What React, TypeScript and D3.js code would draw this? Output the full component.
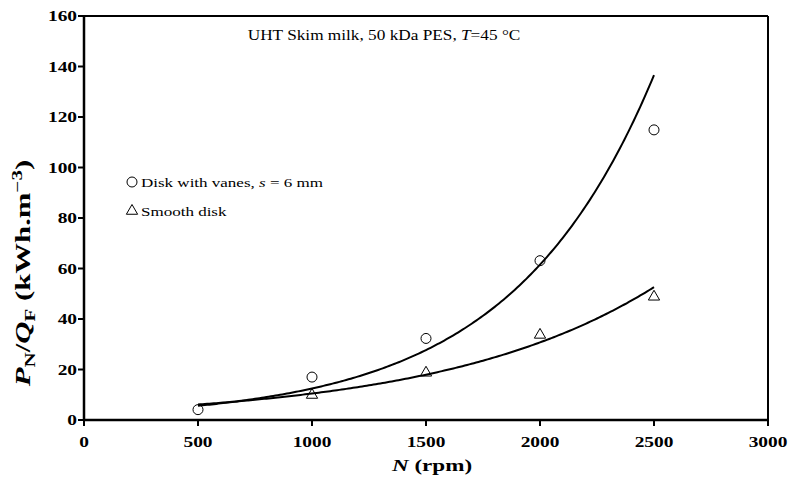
import React from "react";
import * as d3 from "d3";

const speeds = [500, 1000, 1500, 2000, 2500];
const vanesValues = [4.1, 17, 32.3, 63.1, 114.9];
const smoothSpeeds = [1000, 1500, 2000, 2500];
const smoothValues = [9.9, 18.7, 33.7, 48.8];
const xTicks = [0, 500, 1000, 1500, 2000, 2500, 3000];
const yTicks = [0, 20, 40, 60, 80, 100, 120, 140, 160];
const trendDomain = [500, 2500];

const W = 789;
const H = 485;
const FONT = "'Liberation Serif', 'Times New Roman', serif";
const TICK_FS = 15.5;
const TICK_SX = 1.25;

// Exponential trendline (least squares on ln y), like a spreadsheet trendline
function expFit(xs: number[], ys: number[]) {
  const ly = ys.map(Math.log);
  const mx = d3.mean(xs) as number;
  const my = d3.mean(ly) as number;
  let sxy = 0, sxx = 0;
  xs.forEach((x, i) => {
    sxy += (x - mx) * (ly[i] - my);
    sxx += (x - mx) * (x - mx);
  });
  const b = sxy / sxx;
  const a = Math.exp(my - b * mx);
  return (x: number) => a * Math.exp(b * x);
}

export default function App() {
  const x = d3.scaleLinear().domain([0, 3000]).range([84, 768]);
  const y = d3.scaleLinear().domain([0, 160]).range([420, 16]);

  const fVanes = expFit(speeds, vanesValues);
  const fSmooth = expFit(smoothSpeeds, smoothValues);
  const samples = d3.range(trendDomain[0], trendDomain[1] + 1, 10);
  const pathV = d3
    .line<number>()
    .x((d) => x(d))
    .y((d) => y(fVanes(d)))(samples) as string;
  const pathS = d3
    .line<number>()
    .x((d) => x(d))
    .y((d) => y(fSmooth(d)))(samples) as string;

  const tri = d3.symbol().type(d3.symbolTriangle).size(55)() as string;

  return (
    <svg
      width={W}
      height={H}
      style={{ position: "absolute", left: 0, top: 0, background: "#fff" }}
      fontFamily={FONT}
    >
      <rect x={0} y={0} width={W} height={H} fill="#fff" />
      {/* frame */}
      <line x1={x(0)} x2={x(3000)} y1={y(160)} y2={y(160)} stroke="#000" strokeWidth={2} />
      <line x1={x(3000)} x2={x(3000)} y1={y(160)} y2={y(0)} stroke="#000" strokeWidth={2} />
      <line x1={x(0)} x2={x(3000)} y1={y(0)} y2={y(0)} stroke="#000" strokeWidth={2.5} />
      <line x1={x(0)} x2={x(0)} y1={y(160)} y2={y(0)} stroke="#000" strokeWidth={2.5} />

      {/* y ticks */}
      {yTicks.map((t) => (
        <g key={"y" + t}>
          <line x1={x(0) - 6} x2={x(0)} y1={y(t)} y2={y(t)} stroke="#000" strokeWidth={2} />
          <text
            transform={`translate(${x(0) - 7},${y(t)}) scale(${TICK_SX},1)`}
            dy="0.35em"
            textAnchor="end"
            fontWeight="bold"
            fontSize={TICK_FS}
          >
            {t}
          </text>
        </g>
      ))}
      {/* x ticks */}
      {xTicks.map((t) => (
        <g key={"x" + t}>
          <line x1={x(t)} x2={x(t)} y1={y(0)} y2={y(0) + 6} stroke="#000" strokeWidth={2} />
          <text
            transform={`translate(${x(t)},447) scale(${TICK_SX},1)`}
            textAnchor="middle"
            fontWeight="bold"
            fontSize={TICK_FS}
          >
            {t}
          </text>
        </g>
      ))}

      {/* axis titles */}
      <text
        transform="translate(432,471) scale(1.4,1)"
        textAnchor="middle"
        fontWeight="bold"
        fontSize={16.5}
      >
        <tspan fontStyle="italic">N</tspan> (rpm)
      </text>
      <text
        transform={`translate(30,273) rotate(-90) scale(1.5,1)`}
        textAnchor="middle"
        fontWeight="bold"
        fontSize={20.5}
      >
        <tspan fontStyle="italic">P</tspan>
        <tspan fontSize={14} dy={5}>N</tspan>
        <tspan dy={-5}>/</tspan>
        <tspan fontStyle="italic">Q</tspan>
        <tspan fontSize={14} dy={5}>F</tspan>
        <tspan dy={-5}> (kWh.m</tspan>
        <tspan fontSize={14} dy={-8}>−3</tspan>
        <tspan dy={8}>)</tspan>
      </text>

      {/* title */}
      <text transform="translate(384,40) scale(1.15,1)" textAnchor="middle" fontSize={15}>
        UHT Skim milk, 50 kDa PES, <tspan fontStyle="italic">T</tspan>=45 °C
      </text>

      {/* trend lines */}
      <path d={pathV} fill="none" stroke="#000" strokeWidth={2} />
      <path d={pathS} fill="none" stroke="#000" strokeWidth={2} />

      {/* markers */}
      {speeds.map((s, i) => (
        <circle
          key={"c" + s}
          cx={x(s)}
          cy={y(vanesValues[i])}
          r={5}
          fill="none"
          stroke="#000"
          strokeWidth={1}
        />
      ))}
      {smoothSpeeds.map((s, i) => (
        <path
          key={"t" + s}
          d={tri}
          transform={`translate(${x(s)},${y(smoothValues[i])})`}
          fill="none"
          stroke="#000"
          strokeWidth={1}
        />
      ))}

      {/* legend */}
      <circle cx={132} cy={182} r={5} fill="none" stroke="#000" strokeWidth={1} />
      <text transform="translate(141,187) scale(1.26,1)" fontSize={13.5}>
        Disk with vanes, <tspan fontStyle="italic">s</tspan> = 6 mm
      </text>
      <path d={tri} transform="translate(132,211)" fill="none" stroke="#000" strokeWidth={1} />
      <text transform="translate(141,216) scale(1.26,1)" fontSize={13.5}>
        Smooth disk
      </text>
    </svg>
  );
}
